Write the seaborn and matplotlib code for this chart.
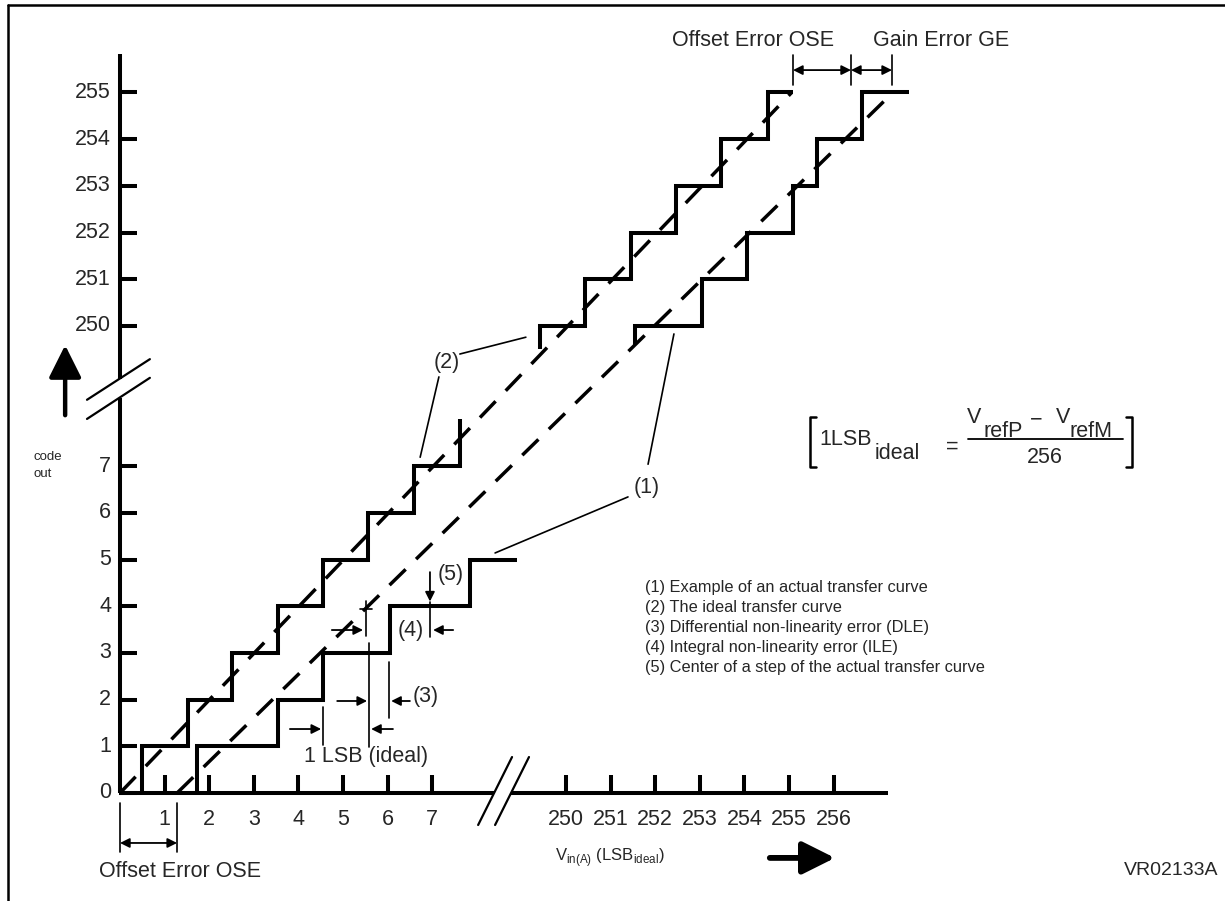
import numpy as np
import pandas as pd
import matplotlib.pyplot as plt
import seaborn as sns

sns.set_style("white")
plt.rcParams['font.family'] = ['Liberation Sans', 'DejaVu Sans']
plt.rcParams['mathtext.fontset'] = 'custom'
plt.rcParams['mathtext.rm'] = 'Liberation Sans'

# axis ticks (code out / Vin in LSB)
y_ticks_low = [0, 1, 2, 3, 4, 5, 6, 7]
y_ticks_high = [250, 251, 252, 253, 254, 255]
x_ticks_low = [1, 2, 3, 4, 5, 6, 7]
x_ticks_high = [250, 251, 252, 253, 254, 255, 256]
BREAK = 240  # values past the axis break are drawn shifted down by this

# (2) ideal transfer curve: input where each code starts
ideal_low_edges = [0.5, 1.52, 2.52, 3.54, 4.55, 5.56, 6.59, 7.62]
ideal_low_codes = [1, 2, 3, 4, 5, 6, 7, 8]
ideal_high_edges = [249.42, 250.43, 251.46, 252.47, 253.48, 254.53]
ideal_high_codes = [250, 251, 252, 253, 254, 255]
ideal_high_from = 249.5
ideal_high_end = 255.09

# (1) actual transfer curve
actual_low_edges = [1.73, 3.54, 4.55, 6.05, 7.85]
actual_low_codes = [1, 2, 3, 4, 5]
actual_low_end = 8.90
actual_high_edges = [251.55, 253.05, 254.06, 255.09, 255.63, 256.64]
actual_high_codes = [250, 251, 252, 253, 254, 255]
actual_high_from = 249.6
actual_high_end = 257.69

# straight lines through the curves
ideal_line_x = [0, 255.06]
ideal_line_y = [0, 255.0]
actual_line_x = [1.28, 257.33]
actual_line_y = [0, 255.0]

legend_lines = ["(1) Example of an actual transfer curve",
                "(2) The ideal transfer curve",
                "(3) Differential non-linearity error (DLE)",
                "(4) Integral non-linearity error (ILE)",
                "(5) Center of a step of the actual transfer curve"]


def sh(v):
    return v - BREAK if v >= 249 else v


def stairs(edges, codes, start, end=None):
    xs, ys = [], []
    prev = start
    for e, c in zip(edges, codes):
        xs += [sh(e), sh(e)]
        ys += [sh(prev), sh(c)]
        prev = c
    if end is not None:
        xs.append(sh(end))
        ys.append(sh(prev))
    return xs, ys


fig = plt.figure(figsize=(12.25, 9.01), dpi=100)
ax = fig.add_axes([0, 0, 1, 1])
ax.set_xlim(-120 / 44.6, (1225 - 120) / 44.6)
ax.set_ylim(-(901 - 793) / 46.7, 793 / 46.7)
ax.axis('off')

K = 'black'
thick = 2.9

# frame
ax.plot([-2.51, -2.51], [-2.4, 16.87], color=K, lw=1.8)
ax.plot([-2.51, 24.8], [16.87, 16.87], color=K, lw=1.8)

# staircases
for xs, ys in [stairs(ideal_low_edges, ideal_low_codes, 0),
               stairs(ideal_high_edges, ideal_high_codes, ideal_high_from, ideal_high_end),
               stairs(actual_low_edges, actual_low_codes, 0, actual_low_end),
               stairs(actual_high_edges, actual_high_codes, actual_high_from, actual_high_end)]:
    sns.lineplot(x=xs, y=ys, sort=False, estimator=None, color=K, lw=thick,
                 solid_joinstyle='miter', solid_capstyle='butt', ax=ax)

# dashed straight lines
for lx, ly in [(ideal_line_x, ideal_line_y), (actual_line_x, actual_line_y)]:
    sns.lineplot(x=[sh(v) for v in lx], y=[sh(v) for v in ly], sort=False,
                 estimator=None, color=K, lw=2.5, linestyle=(0, (6.5, 4.2)),
                 dash_capstyle='butt', ax=ax)

# axes with breaks
ax.plot([0, 0], [0, 8.46], color=K, lw=thick, solid_capstyle='butt')
ax.plot([0, 0], [8.87, 15.82], color=K, lw=thick, solid_capstyle='butt')
ax.plot([-0.03, 8.39], [0, 0], color=K, lw=thick, solid_capstyle='butt')
ax.plot([8.77, 17.22], [0, 0], color=K, lw=thick, solid_capstyle='butt')
ax.plot([-0.74, 0.67], [8.42, 9.29], color=K, lw=1.6)
ax.plot([-0.74, 0.67], [8.01, 8.89], color=K, lw=1.6)
ax.plot([8.03, 8.79], [-0.685, 0.77], color=K, lw=1.6)
ax.plot([8.41, 9.17], [-0.685, 0.77], color=K, lw=1.6)

for c in y_ticks_low + y_ticks_high:
    ax.plot([0, 0.38], [sh(c), sh(c)], color=K, lw=thick, solid_capstyle='butt')
    ax.text(-0.2, sh(c), str(c), ha='right', va='center', fontsize=15.5)
for x in x_ticks_low + x_ticks_high:
    ax.plot([sh(x), sh(x)], [0, 0.385], color=K, lw=thick, solid_capstyle='butt')
    ax.text(sh(x), -0.56, str(x), ha='center', va='center', fontsize=15.5)


def arrow(x0, y0, x1, y1, style='-|>'):
    ax.annotate('', xy=(x1, y1), xytext=(x0, y0),
                arrowprops=dict(arrowstyle=style, color=K, lw=1.3,
                                shrinkA=0, shrinkB=0, mutation_scale=14))


def thin(xs, ys):
    ax.plot(xs, ys, color=K, lw=1.2)


# offset error at the bottom
thin([0, 0], [-0.214, -1.263])
thin([1.28, 1.28], [-0.214, -1.263])
arrow(0, -1.07, 1.28, -1.07, '<|-|>')
ax.text(-0.47, -1.69, "Offset Error OSE", ha='left', va='center', fontsize=15.5)

# offset and gain error at the top
for u in [15.09, 16.39, 17.31]:
    thin([u, u], [15.16, 15.80])
arrow(15.09, 15.48, 16.39, 15.48, '<|-|>')
arrow(16.39, 15.48, 17.31, 15.48, '<|-|>')
ax.text(12.38, 16.12, "Offset Error OSE", ha='left', va='center', fontsize=15.5)
ax.text(16.88, 16.12, "Gain Error GE", ha='left', va='center', fontsize=15.5)

# 1 LSB (ideal)
thin([4.55, 4.55], [1.03, 1.84])
arrow(3.81, 1.37, 4.51, 1.37)
arrow(6.12, 1.37, 5.63, 1.37)
ax.text(5.52, 0.79, "1 LSB (ideal)", ha='center', va='center', fontsize=15.5)

# (3) DLE
thin([5.58, 5.58], [0.985, 3.21])
thin([6.03, 6.03], [1.61, 2.81])
arrow(4.87, 1.97, 5.54, 1.97)
arrow(6.50, 1.97, 6.08, 1.97)
ax.text(6.55, 2.06, "(3)", ha='left', va='center', fontsize=15.5)

# (4) ILE
thin([5.52, 5.52], [3.36, 4.11])
thin([5.38, 5.65], [3.94, 3.94])
thin([6.95, 6.95], [3.34, 4.09])
arrow(4.75, 3.49, 5.45, 3.49)
arrow(7.47, 3.49, 7.02, 3.49)
ax.text(6.52, 3.47, "(4)", ha='center', va='center', fontsize=15.5)

# (5) step center
arrow(6.95, 4.73, 6.95, 4.10)
ax.text(7.42, 4.67, "(5)", ha='center', va='center', fontsize=15.5)

# (2) and (1) callouts
ax.text(7.33, 9.21, "(2)", ha='center', va='center', fontsize=15.5)
thin([7.62, 9.10], [9.40, 9.76])
thin([7.15, 6.73], [8.91, 7.19])
ax.text(11.82, 6.55, "(1)", ha='center', va='center', fontsize=15.5)
thin([11.84, 12.42], [7.04, 9.83])
thin([11.39, 8.41], [6.34, 5.14])

# legend text
for i, line in enumerate(legend_lines):
    ax.text(11.77, 4.41 - 0.43 * i, line, ha='left', va='center', fontsize=11.8)

# formula
fs = 15.5
ax.plot([15.60, 15.47, 15.47, 15.60], [8.05, 8.05, 6.98, 6.98], color=K, lw=1.8)
ax.plot([22.56, 22.69, 22.69, 22.56], [8.05, 8.05, 6.98, 6.98], color=K, lw=1.8)
ax.text(15.67, 7.56, "1LSB", ha='left', va='center', fontsize=fs)
ax.text(16.93, 7.28, "ideal", ha='left', va='center', fontsize=fs)
ax.text(18.65, 7.41, "=", ha='center', va='center', fontsize=fs)
ax.plot([19.01, 22.49], [7.58, 7.58], color=K, lw=1.3)
ax.text(19.00, 8.03, "V", ha='left', va='center', fontsize=fs)
ax.text(19.36, 7.75, "refP", ha='left', va='center', fontsize=fs)
ax.text(20.55, 7.98, "\u2212", ha='center', va='center', fontsize=fs)
ax.text(20.98, 8.03, "V", ha='left', va='center', fontsize=fs)
ax.text(21.30, 7.75, "refM", ha='left', va='center', fontsize=fs)
ax.text(20.74, 7.19, "256", ha='center', va='center', fontsize=fs)

# code out arrow
ax.annotate('', xy=(-1.23, 9.59), xytext=(-1.23, 8.09),
            arrowprops=dict(arrowstyle='-|>,head_length=0.9,head_width=0.45', color=K,
                            lw=3.2, shrinkA=0, shrinkB=0, mutation_scale=22))
ax.text(-1.95, 7.19, "code", ha='left', va='center', fontsize=9.5)
ax.text(-1.95, 6.83, "out", ha='left', va='center', fontsize=9.5)

# Vin label and arrow
ax.text(9.75, -1.39, r"V$_{\mathrm{in(A)}}$ (LSB$_{\mathrm{ideal}}$)", ha='left',
        va='center', fontsize=12)
ax.annotate('', xy=(16.03, -1.39), xytext=(14.57, -1.39),
            arrowprops=dict(arrowstyle='-|>,head_length=0.9,head_width=0.45', color=K,
                            lw=4.2, shrinkA=0, shrinkB=0, mutation_scale=22))

ax.text(24.62, -1.65, "VR02133A", ha='right', va='center', fontsize=14)

fig.savefig("out.png", dpi=100)
